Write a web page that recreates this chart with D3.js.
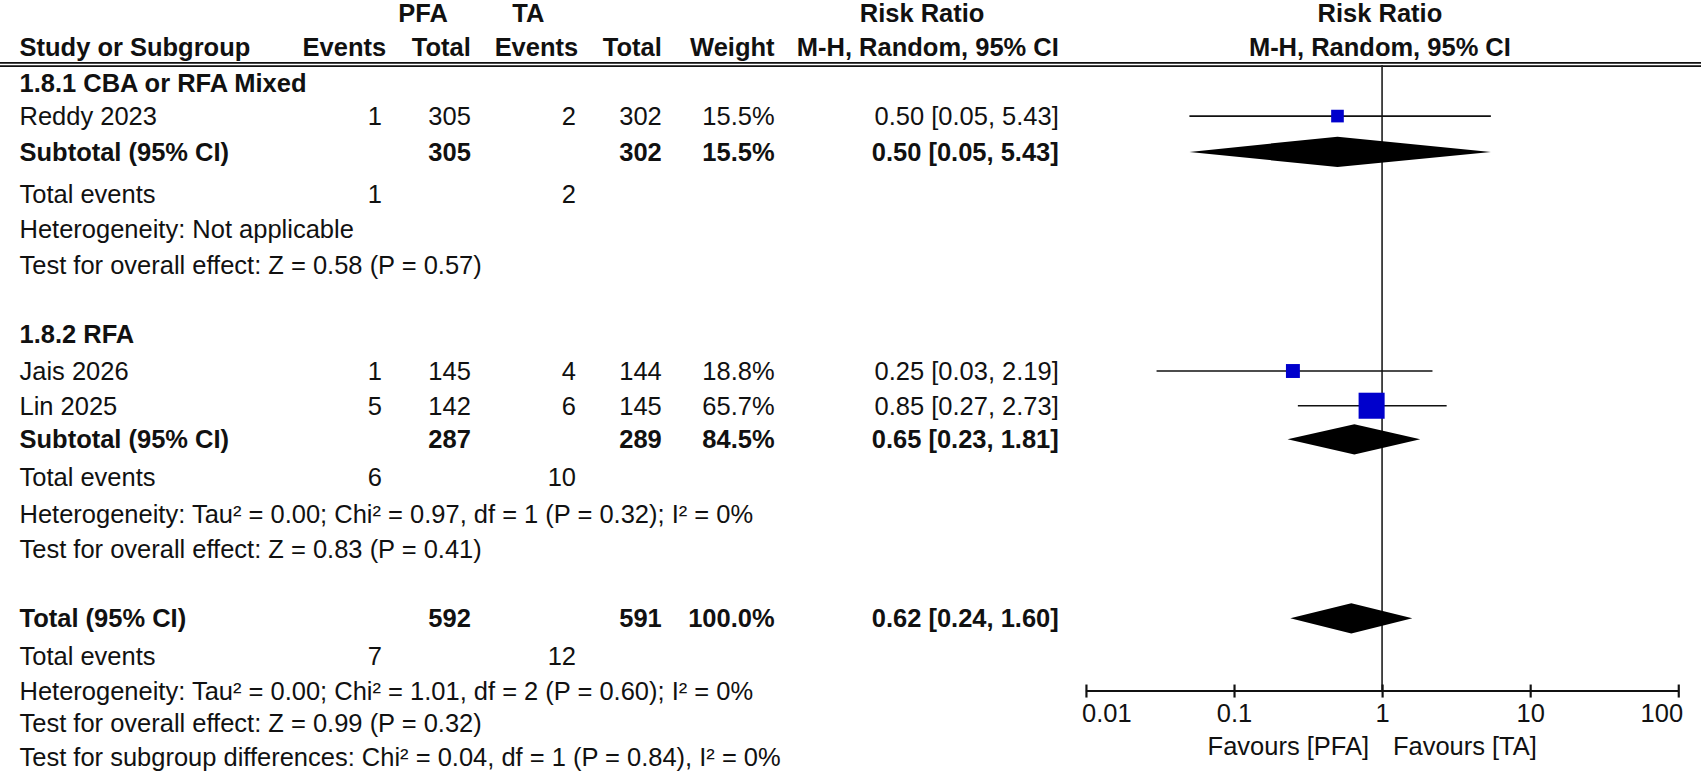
<!DOCTYPE html>
<html><head><meta charset="utf-8">
<script src="https://cdn.jsdelivr.net/npm/d3@7"></script>
<style>body{margin:0;background:#fff}text{font-family:"Liberation Sans",Arial,sans-serif;font-size:23.5px;fill:#111}</style>
</head><body><svg id="c" width="1701" height="777"></svg>
<script>
// rows of the forest plot: type, label, values
const studies = [
  { name: "Reddy 2023", e1: 1, n1: 305, e2: 2, n2: 302, w: "15.5%", rr: 0.50, lo: 0.05, hi: 5.43, wt: 15.5 },
  { name: "Jais 2026", e1: 1, n1: 145, e2: 4, n2: 144, w: "18.8%", rr: 0.25, lo: 0.03, hi: 2.19, wt: 18.8 },
  { name: "Lin 2025", e1: 5, n1: 142, e2: 6, n2: 145, w: "65.7%", rr: 0.85, lo: 0.27, hi: 2.73, wt: 65.7 }
];
const subtotals = [
  { name: "Subtotal (95% CI)", n1: 305, n2: 302, w: "15.5%", rr: 0.50, lo: 0.05, hi: 5.43 },
  { name: "Subtotal (95% CI)", n1: 287, n2: 289, w: "84.5%", rr: 0.65, lo: 0.23, hi: 1.81 },
  { name: "Total (95% CI)", n1: 592, n2: 591, w: "100.0%", rr: 0.62, lo: 0.24, hi: 1.60 }
];
const totalEvents = [[1, 2], [6, 10], [7, 12]];
const groupTitles = ["1.8.1 CBA or RFA Mixed", "1.8.2 RFA"];
const notes = [
  ["Heterogeneity: Not applicable", "Test for overall effect: Z = 0.58 (P = 0.57)"],
  ["Heterogeneity: Tau² = 0.00; Chi² = 0.97, df = 1 (P = 0.32); I² = 0%", "Test for overall effect: Z = 0.83 (P = 0.41)"],
  ["Heterogeneity: Tau² = 0.00; Chi² = 1.01, df = 2 (P = 0.60); I² = 0%", "Test for overall effect: Z = 0.99 (P = 0.32)",
   "Test for subgroup differences: Chi² = 0.04, df = 1 (P = 0.84), I² = 0%"]
];
const ticks = [0.01, 0.1, 1, 10, 100];

// everything laid out on a 1568-wide grid, scaled up to the page
const svg = d3.select("#c").append("g").attr("transform", `scale(${1701 / 1568})`);
const x = d3.scaleLog().domain([0.01, 100]).range([1001, 1547]);
const col = { e1: 352, n1: 434, e2: 531, n2: 610, w: 714, rr: 976 };

function txt(xp, y, s, anchor = "start", bold = false) {
  return svg.append("text").attr("x", xp).attr("y", y).attr("dy", "0.35em")
    .attr("text-anchor", anchor).attr("font-weight", bold ? "bold" : null).text(s);
}
const fmt = d => d3.format(".2f")(d);
const ci = d => `${fmt(d.rr)} [${fmt(d.lo)}, ${fmt(d.hi)}]`;

// header
txt(390, 12, "PFA", "middle", true);
txt(487, 12, "TA", "middle", true);
txt(850, 12, "Risk Ratio", "middle", true);
txt(1272, 12, "Risk Ratio", "middle", true);
txt(18, 43, "Study or Subgroup", "start", true);
[["Events", col.e1 + 4], ["Total", col.n1], ["Events", col.e2 + 2], ["Total", col.n2], ["Weight", col.w]]
  .forEach(([s, p]) => txt(p, 43, s, "end", true));
txt(col.rr, 43, "M-H, Random, 95% CI", "end", true);
txt(1272, 43, "M-H, Random, 95% CI", "middle", true);
svg.append("line").attr("x1", 0).attr("x2", 1568).attr("y1", 58).attr("y2", 58).attr("stroke", "#111").attr("stroke-width", 1.5);
svg.append("line").attr("x1", 0).attr("x2", 1568).attr("y1", 61).attr("y2", 61).attr("stroke", "#111").attr("stroke-width", 1.5);

// layout of rows
const studyRows = [[studies[0], 107], [studies[1], 342], [studies[2], 374]];
const subY = [140, 405, 570], teY = [179, 440, 605], noteY = [[211, 244], [474, 506], [637, 667, 698]];
txt(18, 77, groupTitles[0], "start", true);
txt(18, 308, groupTitles[1], "start", true);

// null line
svg.append("line").attr("x1", x(1)).attr("x2", x(1)).attr("y1", 60).attr("y2", 637).attr("stroke", "#222").attr("stroke-width", 1.5);

const size = d3.scaleSqrt().domain([0, 65.7]).range([0, 24]);
studyRows.forEach(([d, y]) => {
  txt(18, y, d.name);
  txt(col.e1, y, d.e1, "end"); txt(col.n1, y, d.n1, "end");
  txt(col.e2, y, d.e2, "end"); txt(col.n2, y, d.n2, "end");
  txt(col.w, y, d.w, "end"); txt(col.rr, y, ci(d), "end");
  svg.append("line").attr("x1", x(d.lo)).attr("x2", x(d.hi)).attr("y1", y).attr("y2", y).attr("stroke", "#111").attr("stroke-width", 1.5);
  const s = Math.max(9, size(d.wt));
  svg.append("rect").attr("x", x(d.rr) - s / 2).attr("y", y - s / 2).attr("width", s).attr("height", s).attr("fill", "#0000cc");
});

subtotals.forEach((d, i) => {
  const y = subY[i];
  txt(18, y, d.name, "start", true);
  txt(col.n1, y, d.n1, "end", true); txt(col.n2, y, d.n2, "end", true);
  txt(col.w, y, d.w, "end", true); txt(col.rr, y, ci(d), "end", true);
  svg.append("path").attr("d", `M${x(d.lo)},${y}L${x(d.rr)},${y - 14}L${x(d.hi)},${y}L${x(d.rr)},${y + 14}Z`).attr("fill", "#000");
  txt(18, teY[i], "Total events");
  txt(col.e1, teY[i], totalEvents[i][0], "end");
  txt(col.e2, teY[i], totalEvents[i][1], "end");
  notes[i].forEach((n, j) => txt(18, noteY[i][j], n));
});

// axis
const axisY = 637;
const ax = svg.append("g").attr("transform", `translate(0,${axisY})`)
  .call(d3.axisBottom(x).tickValues(ticks).tickFormat(d => d3.format("~g")(d)).tickSize(-12).tickPadding(8));
ax.select(".domain").attr("stroke", "#111").attr("stroke-width", 2).attr("d", `M${x(0.01)},0H${x(100)}`);
ax.selectAll(".tick line").attr("stroke", "#111").attr("stroke-width", 2).attr("y1", 6).attr("y2", -6);
ax.selectAll(".tick text").style("font-size", "23.5px").attr("fill", "#111").attr("y", 12)
  .attr("text-anchor", (d, i) => i === 0 ? "start" : i === ticks.length - 1 ? "end" : "middle")
  .attr("x", (d, i) => i === 0 ? -4 : i === ticks.length - 1 ? 4 : 0);
txt(x(1) - 12, 688, "Favours [PFA]", "end").attr("fill", "#333");
txt(x(1) + 10, 688, "Favours [TA]", "start").attr("fill", "#333");
</script></body></html>
